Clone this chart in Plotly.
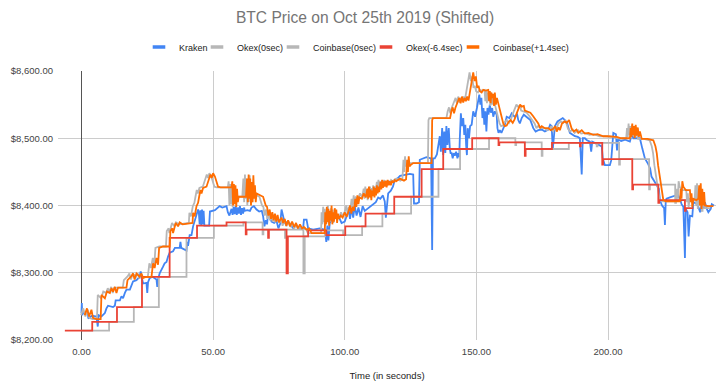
import plotly.graph_objects as go

# ---------------- data ----------------
kraken_time = [0.0, 0.15, 0.3, 0.6, 2.5, 2.6, 4.0, 5.7, 6.2, 6.5, 7.6, 8.9, 9.5, 10.1, 12.0, 12.7, 13.0, 14.6,
               15.2, 15.8, 16.5, 17.1, 18.4, 19.0, 19.6, 20.9, 21.5, 22.1, 22.5, 22.8, 23.4, 24.7, 25.0, 25.3,
               25.9, 27.0, 28.5, 28.8, 29.1, 29.7, 30.3, 31.0, 31.6, 32.3, 32.9, 33.5, 34.8, 35.5, 37.3, 37.6,
               37.9, 39.9, 40.2, 40.5, 41.1, 41.8, 42.4, 43.3, 44.0, 44.3, 44.6, 44.9, 45.2, 45.5, 45.8, 46.1,
               46.4, 46.7, 48.5, 48.8, 50.7, 51.5, 52.5, 53.5, 55.1, 55.6, 56.2, 57.0, 57.4, 57.8, 58.2, 58.6,
               59.0, 59.4, 59.8, 60.2, 60.6, 61.0, 61.4, 61.8, 62.0, 63.0, 64.0, 64.6, 65.5, 66.5, 67.5, 68.5,
               69.0, 69.5, 70.0, 70.5, 70.9, 71.5, 72.2, 73.2, 74.1, 74.8, 75.5, 76.0, 76.6, 77.2, 78.5, 79.8,
               80.5, 81.5, 82.3, 84.2, 84.5, 85.5, 86.1, 88.0, 90.5, 92.5, 93.0, 93.4, 93.8, 94.3, 95.2, 96.2,
               97.5, 98.8, 100.0, 100.7, 101.5, 102.0, 102.6, 103.2, 103.8, 104.5, 105.2, 106.0, 106.8, 107.6,
               108.5, 109.5, 110.8, 111.8, 112.7, 113.5, 114.5, 115.2, 115.6, 116.0, 116.5, 117.5, 118.3, 119.0,
               120.0, 121.0, 122.8, 124.7, 126.0, 126.3, 127.3, 128.2, 128.5, 129.8, 131.0, 132.8, 133.2, 133.5,
               134.2, 135.0, 136.1, 136.5, 137.0, 137.4, 137.8, 138.2, 138.6, 139.0, 139.5, 139.9, 140.2, 140.6,
               141.0, 141.4, 141.8, 142.3, 142.8, 143.1, 143.5, 143.7, 144.1, 144.5, 145.0, 145.4, 145.8, 146.1,
               146.4, 146.7, 147.2, 147.6, 148.2, 148.8, 149.5, 150.2, 150.7, 151.1, 151.5, 151.9, 152.3, 152.7,
               153.0, 153.4, 153.8, 154.2, 154.6, 155.1, 155.5, 156.0, 156.4, 157.0, 157.7, 158.0, 158.4, 158.9,
               159.5, 160.2, 160.8, 161.5, 162.5, 163.4, 164.5, 165.5, 165.9, 166.5, 167.2, 168.0, 169.0, 169.7,
               170.5, 171.6, 172.5, 173.5, 174.8, 176.0, 177.3, 178.0, 178.6, 179.0, 179.4, 179.8, 180.8, 181.7,
               182.8, 183.6, 184.5, 185.5, 186.5, 187.4, 188.5, 189.3, 190.0, 190.4, 191.2, 192.0, 193.1, 193.6,
               194.0, 195.5, 197.0, 197.6, 198.0, 198.5, 198.8, 200.7, 201.2, 202.0, 203.0, 203.4, 203.8, 205.0,
               206.5, 208.3, 209.0, 209.6, 212.1, 213.0, 214.0, 215.2, 216.0, 216.5, 217.5, 218.5, 219.3, 219.7,
               220.5, 221.3, 221.6, 221.9, 222.2, 223.5, 225.4, 226.5, 227.5, 227.9, 228.6, 229.2, 229.5, 230.2,
               230.6, 231.1, 232.0, 232.4, 233.5, 234.3, 235.0, 235.5, 236.3, 236.8, 237.5, 238.1, 239.0, 239.4,
               240.2]
kraken_price = [8240, 8255, 8237, 8240, 8240, 8232, 8236, 8235, 8220, 8237, 8235, 8240, 8247, 8251, 8249, 8251, 8259, 8259,
                8265, 8262, 8270, 8275, 8275, 8280, 8287, 8289, 8292, 8294, 8302, 8294, 8284, 8285, 8270, 8286,
                8292, 8294, 8290, 8279, 8290, 8299, 8305, 8309, 8314, 8316, 8324, 8330, 8332, 8337, 8337, 8346,
                8337, 8333, 8346, 8340, 8356, 8356, 8369, 8380, 8392, 8394, 8389, 8372, 8393, 8370, 8394, 8372,
                8392, 8370, 8370, 8391, 8393, 8396, 8399, 8397, 8399, 8390, 8385, 8395, 8386, 8398, 8387, 8399,
                8386, 8397, 8388, 8399, 8386, 8396, 8388, 8397, 8392, 8393, 8392, 8397, 8399, 8394, 8391, 8392,
                8384, 8369, 8378, 8372, 8390, 8385, 8376, 8374, 8377, 8366, 8373, 8394, 8385, 8374, 8376, 8370,
                8366, 8372, 8366, 8366, 8379, 8379, 8366, 8364, 8366, 8364, 8346, 8370, 8348, 8374, 8380, 8384,
                8385, 8374, 8376, 8384, 8394, 8380, 8396, 8382, 8399, 8385, 8397, 8383, 8399, 8392,
                8395, 8398, 8403, 8405, 8412, 8410, 8415, 8406, 8382, 8400, 8418, 8422, 8428, 8438,
                8440, 8444, 8446, 8447, 8446, 8403, 8403, 8405, 8468, 8470, 8472, 8470, 8334, 8470,
                8470, 8476, 8503, 8480, 8515, 8475, 8510, 8478, 8518, 8490, 8515, 8485, 8478, 8478,
                8470, 8478, 8474, 8480, 8470, 8478, 8472, 8500, 8537, 8518, 8530, 8505, 8520, 8490,
                8475, 8515, 8500, 8518, 8520, 8540, 8532, 8545, 8555, 8565, 8550, 8560, 8530, 8545,
                8520, 8540, 8510, 8545, 8535, 8550, 8538, 8545, 8532, 8540, 8535, 8515, 8508, 8512,
                8508, 8515, 8520, 8532, 8530, 8537, 8532, 8535, 8527, 8522, 8530, 8535, 8532, 8530,
                8527, 8515, 8510, 8512, 8513, 8510, 8513, 8520, 8518, 8483, 8505, 8518, 8525, 8527,
                8530, 8527, 8522, 8508, 8505, 8503, 8502, 8500, 8446, 8500, 8500, 8497, 8495, 8480,
                8495, 8492, 8490, 8488, 8470, 8462, 8460, 8460, 8467, 8508, 8506, 8482, 8498, 8496,
                8498, 8495, 8506, 8500, 8500, 8485, 8470, 8462, 8455, 8443, 8436, 8430, 8425, 8408,
                8400, 8396, 8371, 8405, 8410, 8412, 8415, 8416, 8408, 8402, 8398, 8322, 8395, 8390,
                8354, 8385, 8384, 8405, 8403, 8398, 8390, 8400, 8396, 8405, 8395, 8390, 8395, 8402,
                8400]

# Okex trades, plotted 6.4 s earlier (red, step line); raw series = these times + 6.4 s
okex_time_shifted = [-6.3, 4.1, 13.5, 23.0, 33.5, 43.9, 55.1, 62.4, 62.7, 70.9, 71.2, 77.9, 78.4, 86.1,
                     93.0, 100.2, 107.9, 118.8, 129.2, 137.4, 148.4, 158.4, 158.7, 168.4, 168.7, 178.7,
                     189.3, 189.6, 197.8, 198.1, 209.2, 209.5, 219.1, 219.4, 229.2, 229.5, 232.4]
okex_price = [8214, 8227, 8249, 8294, 8352, 8370, 8375, 8357, 8364, 8352, 8364, 8299, 8354, 8363,
              8356, 8369, 8388, 8413, 8454, 8484, 8500, 8490, 8494, 8474, 8484, 8493,
              8488, 8493, 8461, 8469, 8424, 8431, 8404, 8408, 8392, 8396, 8396]
OKEX_SHIFT = -6.4

# Coinbase trades, plotted 1.4 s later (orange); raw series = these times - 1.4 s
coinbase_time_shifted = [1.25, 2.1, 2.9, 3.8, 4.4, 5.7, 7.3, 7.6, 8.9, 9.7, 10.8, 11.4, 12.0, 12.7, 13.3, 13.9,
                         17.1, 17.5, 19.0, 19.6, 20.2, 20.9, 22.1, 22.8, 23.4, 24.7, 26.6, 27.2, 27.8, 28.5,
                         29.1, 29.5, 31.0, 33.5, 33.8, 34.5, 34.8, 35.8, 36.7, 37.3, 38.4, 42.2, 42.4, 43.0,
                         43.7, 44.3, 44.7, 45.2, 45.6, 46.2, 47.5, 48.1, 48.5, 49.0, 49.5, 50.0, 50.7, 51.3,
                         51.9, 52.8, 57.0, 57.3, 57.6, 57.9, 58.2, 58.5, 58.8, 59.1, 59.4, 59.7, 62.5, 62.9,
                         63.2, 63.5, 63.8, 64.1, 64.4, 64.7, 65.0, 65.3, 65.6, 65.9, 66.2, 66.5, 69.0, 70.0,
                         70.5, 71.0, 71.5, 72.0, 72.5, 73.0, 73.5, 74.0, 74.5, 75.0, 76.0, 76.6, 77.2, 77.8,
                         78.5, 79.2, 80.0, 80.8, 81.5, 82.2, 83.0, 83.8, 84.5, 85.5, 86.5, 87.4, 92.4, 92.6,
                         92.9, 93.2, 93.5, 93.8, 94.1, 94.4, 94.7, 95.0, 95.3, 95.6, 95.9, 96.2, 96.5, 96.8,
                         97.1, 97.4, 97.8, 98.5, 99.2, 100.0, 100.7, 101.5, 102.0, 102.5, 103.0, 103.5, 104.0,
                         104.4, 104.8, 105.2, 105.6, 106.5, 107.2, 108.0, 108.6, 108.9, 109.2, 109.5, 109.8,
                         110.1, 110.4, 110.7, 111.0, 111.3, 111.6, 111.9, 112.2, 112.5, 112.8, 113.1, 113.6,
                         113.9, 114.2, 114.5, 114.8, 115.1, 115.5, 115.9, 116.3, 116.7, 117.1, 117.5, 118.0,
                         118.5, 119.0, 119.5, 121.0, 122.5, 123.3, 123.7, 124.0, 124.3, 124.6, 125.0, 126.0,
                         133.0, 133.2, 133.5, 140.0, 140.5, 141.0, 141.5, 142.0, 143.0, 143.5, 144.0, 144.5,
                         145.0, 145.5, 146.0, 146.5, 147.0, 147.8, 148.3, 148.8, 149.3, 149.8, 150.3, 150.8,
                         151.3, 152.0, 152.6, 153.5, 154.5, 154.8, 155.1, 155.4, 155.7, 156.0, 156.4, 156.7,
                         157.0, 157.4, 157.8, 158.3, 158.8, 159.3, 159.8, 160.2, 160.8, 161.5, 162.2, 163.0,
                         163.8, 164.5, 165.3, 166.0, 166.6, 167.2, 168.0, 168.4, 169.5, 170.5, 171.5, 172.5,
                         173.5, 174.2, 174.8, 176.0, 177.3, 178.2, 179.2, 180.0, 180.5, 181.2, 181.7, 182.5,
                         183.5, 184.3, 185.2, 186.2, 187.0, 188.0, 188.7, 190.0, 191.2, 192.5, 194.4, 196.0,
                         198.2, 200.0, 203.3, 205.0, 208.3, 208.6, 208.9, 209.2, 209.5, 209.8, 210.1, 210.5,
                         210.9, 211.3, 211.7, 212.1, 212.5, 212.8, 215.0, 216.6, 217.2, 218.0, 218.5, 219.0,
                         219.4, 219.7, 220.0, 220.4, 220.7, 221.0, 222.0, 224.0, 227.3, 227.6, 227.9, 228.2,
                         228.6, 229.5, 231.1, 231.4, 231.7, 232.0, 232.4, 233.5, 234.3, 234.6, 234.9, 235.2,
                         235.5, 235.8, 236.1, 236.5, 236.8, 238.0, 240.0]
coinbase_price = [8237, 8247, 8235, 8245, 8233, 8231, 8231, 8267, 8262, 8272, 8270, 8277, 8272, 8279, 8270, 8278,
                  8278, 8289, 8295, 8299, 8290, 8299, 8294, 8299, 8292, 8294, 8294, 8314, 8307, 8322,
                  8312, 8337, 8339, 8339, 8362, 8366, 8359, 8374, 8369, 8375, 8372, 8374, 8389, 8384,
                  8399, 8404, 8413, 8423, 8418, 8426, 8428, 8436, 8443, 8446, 8441, 8448, 8443, 8436,
                  8428, 8427, 8427, 8436, 8400, 8432, 8402, 8430, 8398, 8425, 8405, 8413, 8413, 8440,
                  8405, 8446, 8410, 8440, 8400, 8435, 8405, 8445, 8410, 8430, 8405, 8418, 8413, 8400,
                  8398, 8385, 8394, 8380, 8390, 8378, 8388, 8376, 8386, 8375, 8382, 8374, 8380, 8370,
                  8378, 8369, 8376, 8368, 8374, 8366, 8372, 8366, 8368, 8364, 8366, 8359, 8359, 8390,
                  8372, 8398, 8375, 8395, 8370, 8392, 8378, 8400, 8372, 8390, 8376, 8396, 8380, 8394,
                  8374, 8388, 8380, 8385, 8382, 8390, 8383, 8392, 8400, 8388, 8398, 8392, 8410,
                  8398, 8415, 8402, 8412, 8410, 8418, 8412, 8425, 8410, 8428, 8412, 8424,
                  8408, 8422, 8414, 8428, 8412, 8426, 8415, 8430, 8418, 8428, 8420, 8435,
                  8424, 8438, 8426, 8436, 8428, 8437, 8427, 8438, 8430, 8436, 8430, 8437,
                  8434, 8438, 8436, 8440, 8437, 8439, 8468, 8450, 8473, 8458, 8460, 8463,
                  8463, 8527, 8530, 8530, 8540, 8546, 8537, 8545, 8555, 8560, 8552, 8562,
                  8553, 8560, 8555, 8562, 8556, 8575, 8590, 8598, 8585, 8592, 8575, 8578,
                  8570, 8568, 8572, 8571, 8572, 8555, 8570, 8552, 8568, 8560, 8566, 8548,
                  8568, 8550, 8560, 8552, 8540, 8532, 8525, 8522, 8518, 8519, 8524, 8527,
                  8523, 8528, 8537, 8545, 8550, 8547, 8548, 8541, 8540, 8538, 8533, 8527,
                  8522, 8515, 8518, 8515, 8515, 8512, 8514, 8518, 8510, 8516, 8512, 8522,
                  8525, 8523, 8527, 8514, 8510, 8513, 8508, 8512, 8507, 8508, 8505, 8506,
                  8503, 8503, 8502, 8500, 8500, 8515, 8502, 8522, 8505, 8518, 8500, 8520,
                  8504, 8516, 8502, 8510, 8500, 8499, 8499, 8498, 8497, 8488, 8478, 8460,
                  8450, 8445, 8435, 8425, 8415, 8408, 8406, 8406, 8406, 8425, 8410, 8436,
                  8428, 8423, 8423, 8405, 8418, 8398, 8410, 8408, 8410, 8430, 8400, 8433,
                  8395, 8425, 8400, 8420, 8400, 8399, 8399]
COINBASE_SHIFT = 1.4

# derived raw (0 sec) timelines
okex_time_raw = [t - OKEX_SHIFT for t in okex_time_shifted]
coinbase_time_raw = [t - COINBASE_SHIFT for t in coinbase_time_shifted]

y_ticks = [8200, 8300, 8400, 8500, 8600]
x_ticks = [0, 50, 100, 150, 200]

# ---------------- styling ----------------
BLUE = "#4285F4"
GRAY = "#B7B7B7"
RED = "#EA4335"
ORANGE = "#FF6D01"
FONT = "Liberation Sans, Arial, sans-serif"

fig = go.Figure()

series = [
    ("Kraken", kraken_time, kraken_price, BLUE, "linear"),
    ("Okex(0sec)", okex_time_raw, okex_price, GRAY, "hv"),
    ("Coinbase(0sec)", coinbase_time_raw, coinbase_price, GRAY, "linear"),
    ("Okex(-6.4sec)", okex_time_shifted, okex_price, RED, "hv"),
    ("Coinbase(+1.4sec)", coinbase_time_shifted, coinbase_price, ORANGE, "linear"),
]

for name, xs, ys, color, shape in series:
    fig.add_trace(go.Scatter(
        x=xs, y=ys, mode="lines", name=name, showlegend=False, legendgroup=name,
        line=dict(color=color, width=1.8, shape=shape),
    ))

# legend entries: one small legend per series so that entries sit where the reference puts them
legend_left_px = [139, 197, 273, 366, 453]
legend_names = ["legend", "legend2", "legend3", "legend4", "legend5"]
for (name, xs, ys, color, shape), lg in zip(series, legend_names):
    fig.add_trace(go.Scatter(
        x=[None], y=[None], mode="markers", name=name, legendgroup=name, legend=lg,
        marker=dict(symbol="line-ew", size=9, color=color, line=dict(color=color, width=3.5)),
    ))

legend_common = dict(orientation="h", xref="container", yref="container", xanchor="left",
                     y=1 - 47 / 382, yanchor="middle", font=dict(size=9, color="#222222"),
                     itemwidth=30, bgcolor="rgba(0,0,0,0)")
legend_layout = {lg: dict(legend_common, x=px / 720) for lg, px in zip(legend_names, legend_left_px)}

fig.update_layout(
    width=720, height=382,
    margin=dict(l=58, r=4, t=71, b=42, autoexpand=False),
    paper_bgcolor="white", plot_bgcolor="white",
    font=dict(family=FONT, size=9.5, color="#444444"),
    title=dict(text="BTC Price on Oct 25th 2019 (Shifted)", x=0.507, xref="container",
               y=1 - 18 / 382, yref="container", yanchor="middle", xanchor="center",
               font=dict(size=15.6, color="#757575", family=FONT)),
    showlegend=True,
    **legend_layout,
)

fig.update_xaxes(
    range=[-8.9, 241.0], tickvals=x_ticks, tickformat=".2f",
    showgrid=True, gridcolor="#CCCCCC", gridwidth=1,
    zeroline=True, zerolinecolor="#555555", zerolinewidth=1,
    showline=False, ticks="", ticklabelstandoff=4, tickfont=dict(size=9.5, color="#444444"),
    title=dict(text="Time (in seconds)", font=dict(size=9.5, color="#222222"), standoff=16),
)
fig.update_yaxes(
    range=[8200, 8600], tickvals=y_ticks, tickformat="$,.2f",
    showgrid=True, gridcolor="#CCCCCC", gridwidth=1, zeroline=False,
    showline=False, ticks="", ticklabelstandoff=4, tickfont=dict(size=9.5, color="#444444"),
)

fig.write_html(
    "out.html",
    config={"displayModeBar": False},
    post_script="document.body.style.margin='0';document.body.style.overflow='hidden';",
)
